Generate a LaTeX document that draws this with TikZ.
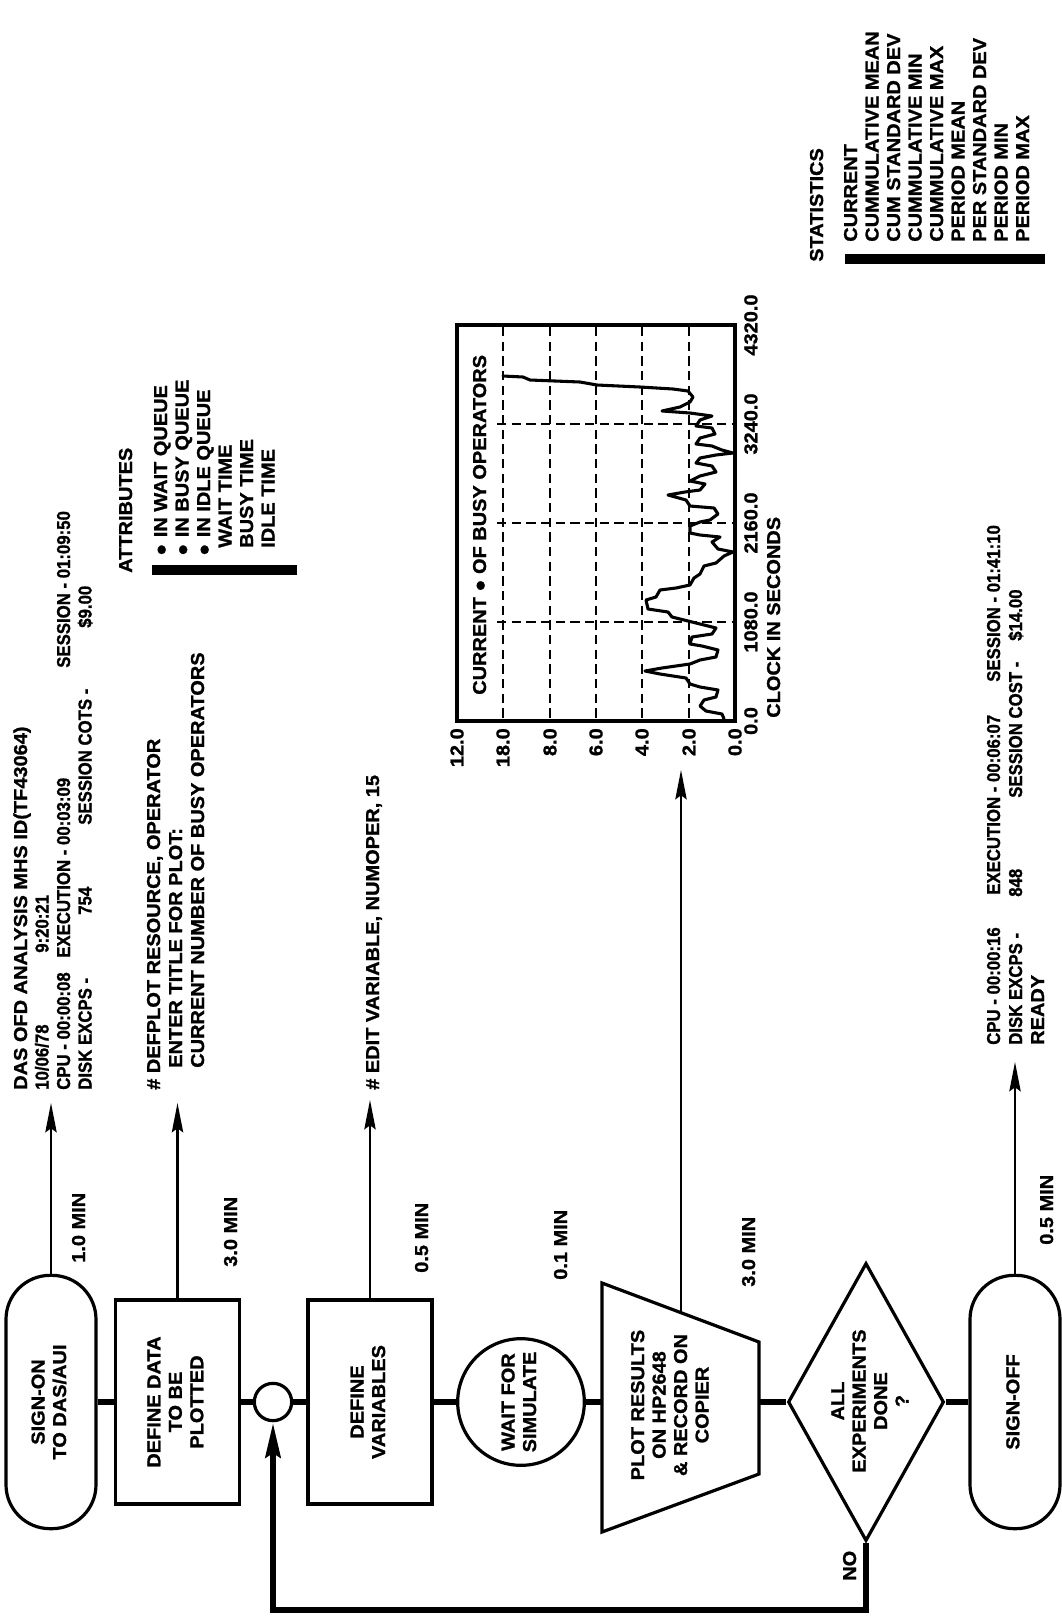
\documentclass[tikz,border=0pt]{standalone}
\usepackage{fontspec}
\setmainfont{Liberation Sans}[FakeStretch=1.07, BoldFeatures={FakeBold=1.2}]
\usepackage{graphicx}
\usetikzlibrary{arrows.meta,shapes.geometric}
\newcommand{\rtx}[1]{\rotatebox{90}{\begin{tabular}{@{}c@{}}#1\end{tabular}}}
\newcommand{\nar}[1]{\scalebox{0.84}[1]{#1}}
\begin{document}
\begin{tikzpicture}[x=0.75pt,y=-0.75pt,
  every node/.style={font=\bfseries\fontsize{14pt}{16.1pt}\selectfont, inner sep=0pt},
  txt/.style={rotate=90, anchor=base west},
  shapebox/.style={draw, line width=2.4pt, minimum width=93pt, minimum height=153pt},
  pill/.style={draw, line width=2.4pt, rounded corners=33pt, minimum width=67.5pt, minimum height=190pt},
  conn/.style={line width=5pt},
  arr/.style={line width=1.6pt, -{Stealth[length=22pt,width=8.5pt,inset=3pt]}},
  loopline/.style={line width=5pt, line join=miter, -{Stealth[length=26pt,width=11pt,inset=3pt]}},
  bar/.style={line width=7.5pt},
  gridl/.style={line width=1.6pt, dash pattern=on 7pt off 4pt},
]
\fill[white] (0,0) rectangle (1061,1621);
\useasboundingbox (0,0) rectangle (1061,1621);

% ---------------- flowchart ----------------
\node[pill] (signon) at (51,1402) {\rtx{SIGN-ON\\TO DAS/AUI}};
\node[shapebox] (defdata) at (177.5,1402) {\rtx{DEFINE DATA\\TO BE\\PLOTTED}};
\node[draw, circle, line width=2.4pt, minimum size=28pt] (junc) at (273,1402) {};
\node[shapebox] (defvar) at (370,1402) {\rtx{DEFINE\\VARIABLES}};
\node[draw, circle, line width=2.4pt, minimum size=95pt] (wait) at (521,1402) {\rtx{WAIT FOR\\SIMULATE}};
\draw[line width=2.4pt, line join=miter] (602,1283) -- (759,1342) -- (759,1474) -- (602,1532) -- cycle;
\coordinate (trapW) at (602,1402);
\coordinate (trapE) at (759,1402);
\coordinate (trapTop) at (681,1313);
\node (plotres) at (672,1405) {\rtx{PLOT RESULTS\\ON HP2648\\\& RECORD ON\\COPIER}};
\node[draw, diamond, aspect=0.56, line width=2.4pt, minimum width=117pt, minimum height=208.5pt] (done) at (866,1402) {};
\node (donetxt) at (872,1401) {\rtx{ALL\\EXPERIMENTS\\DONE\\?}};
\node[pill] (signoff) at (1015,1402) {\rtx{SIGN-OFF}};

\draw[conn] (signon.east) -- (defdata.west);
\draw[conn] (defdata.east) -- (junc.west);
\draw[conn] (junc.east) -- (defvar.west);
\draw[conn] (defvar.east) -- (wait.west);
\draw[conn] (wait.east) -- (trapW);
\draw[conn] (trapE) -- (done.west);
\draw[conn] (done.east) -- (signoff.west);
\coordinate (loopBL) at (273,1610);
\draw[loopline] (done.south) |- (loopBL) -- (junc.south);
\node[txt] (no) at (856,1581) {NO};

% output arrows
\coordinate (t1) at (51,1103);
\coordinate (t2) at (177.5,1103);
\coordinate (t3) at (370,1100);
\coordinate (t4) at (681,770);
\coordinate (t5) at (1015,1062);
\draw[arr] (signon.north) -- (t1);
\draw[arr] (defdata.north) -- (t2);
\draw[arr] (defvar.north) -- (t3);
\draw[arr] (trapTop) -- (t4);
\draw[arr] (signoff.north) -- (t5);

% time labels
\node[txt] (m1) at (85,1263) {1.0 MIN};
\node[txt] (m2) at (237,1267) {3.0 MIN};
\node[txt] (m3) at (428,1273) {0.5 MIN};
\node[txt] (m4) at (567,1280) {0.1 MIN};
\node[txt] (m5) at (755,1287) {3.0 MIN};
\node[txt] (m6) at (1053,1245) {0.5 MIN};

% ---------------- text block 1 ----------------
\node[txt] (b1l1) at (27,1090) {DAS OFD ANALYSIS MHS ID(TF43064)};
\node[txt] (b1l2a) at (48.5,1090) {\nar{10/06/78}};
\node[txt] (b1l2b) at (48.5,953) {\nar{9:20:21}};
\node[txt] (b1l3a) at (70,1090) {\nar{CPU - 00:00:08}};
\node[txt] (b1l3b) at (70,958) {\nar{EXECUTION - 00:03:09}};
\node[txt] (b1l3c) at (70,668) {\nar{SESSION - 01:09:50}};
\node[txt] (b1l4a) at (91.5,1090) {\nar{DISK EXCPS -}};
\node[txt] (b1l4b) at (91.5,915) {\nar{754}};
\node[txt] (b1l4c) at (91.5,825) {\nar{SESSION COTS -}};
\node[txt] (b1l4d) at (91.5,628) {\nar{\$9.00}};

% ---------------- text block 2 ----------------
\node[txt] (b2l1) at (160,1090) {\# DEFPLOT RESOURCE, OPERATOR};
\node[txt] (b2l2) at (182,1068) {ENTER TITLE FOR PLOT:};
\node[txt] (b2l3) at (204,1068) {CURRENT NUMBER OF BUSY OPERATORS};

% ---------------- text block 3 ----------------
\node[txt] (b3l1) at (379,1090) {\# EDIT VARIABLE, NUMOPER, 15};

% ---------------- text block 5 ----------------
\node[txt] (b5l1a) at (1000,1045) {\nar{CPU - 00:00:16}};
\node[txt] (b5l1b) at (1000,895) {\nar{EXECUTION - 00:06:07}};
\node[txt] (b5l1c) at (1000,682) {\nar{SESSION - 01:41:10}};
\node[txt] (b5l2a) at (1022,1045) {\nar{DISK EXCPS -}};
\node[txt] (b5l2b) at (1022,897) {\nar{848}};
\node[txt] (b5l2c) at (1022,798) {\nar{SESSION COST -}};
\node[txt] (b5l2d) at (1022,641) {\nar{\$14.00}};
\node[txt] (b5l3) at (1044,1045) {READY};

% ---------------- attributes ----------------
\node[txt] (atth) at (132,573) {ATTRIBUTES};
\node[txt] (att1) at (167,556) {●\hspace{0.35em}IN WAIT QUEUE};
\node[txt] (att2) at (188.5,556) {●\hspace{0.35em}IN BUSY QUEUE};
\node[txt] (att3) at (210,556) {●\hspace{0.35em}IN IDLE QUEUE};
\node[txt] (att4) at (231.5,548) {WAIT TIME};
\node[txt] (att5) at (253,548) {BUSY TIME};
\node[txt] (att6) at (274.5,548) {IDLE TIME};
\coordinate (attb1) at (152,570);
\coordinate (attb2) at (297,570);
\draw[bar] (attb1) -- (attb2);

% ---------------- statistics ----------------
\node[txt] (sth) at (823,262) {STATISTICS};
\foreach \t [count=\i from 0] in {CURRENT,CUMMULATIVE MEAN,CUM STANDARD DEV,CUMMULATIVE MIN,CUMMULATIVE MAX,PERIOD MEAN,PER STANDARD DEV,PERIOD MIN,PERIOD MAX}
  \node[txt] (st\i) at (857+21.5*\i,242) {\t};
\coordinate (stb1) at (845,259);
\coordinate (stb2) at (1045,259);
\draw[bar] (stb1) -- (stb2);

% ---------------- chart ----------------
\node[draw, line width=3pt, minimum width=208.5pt, minimum height=297pt] (chart) at (596,523) {};
\foreach \x in {503,550,596,642,689} \draw[gridl] (\x,327) -- (\x,719);
\foreach \y in {424,523,622} \draw[gridl] (497,\y) -- (733,\y);
\node[txt] (ctitle) at (486,695) {CURRENT ● OF BUSY OPERATORS};
\foreach \x/\t [count=\i] in {457/12.0,503/18.0,550/8.0,596/6.0,642/4.0,689/2.0,735/0.0}
  \node[rotate=90, anchor=east] (vl\i) at (\x,728) {\t};
\foreach \y/\t [count=\i] in {721/0.0,622/1080.0,523/2160.0,424/3240.0,325/4320.0}
  \node[rotate=90, anchor=north] (tl\i) at (744,\y) {\t};
\node[txt] (clock) at (780,718) {CLOCK IN SECONDS};

\draw[line width=2.3pt, line join=round, line cap=round]
 (724,719) -- (722,714) -- (706,711) -- (700,706) -- (704,700) -- (716,697) -- (718,690)
 -- (700,687) -- (690,684) -- (686,678) -- (660,674) -- (645,671) -- (662,668) -- (690,664)
 -- (700,660) -- (716,657) -- (718,650) -- (702,646) -- (690,644) -- (692,637) -- (712,634)
 -- (716,628) -- (700,624) -- (684,620) -- (672,617) -- (668,612) -- (648,609) -- (646,600)
 -- (656,597) -- (660,590) -- (676,588) -- (690,585) -- (694,578) -- (700,574) -- (704,566)
 -- (716,563) -- (724,556) -- (733,552) -- (718,549) -- (712,542) -- (720,537) -- (700,535)
 -- (690,533) -- (690,526) -- (700,522) -- (710,520) -- (718,514) -- (714,508) -- (690,506)
 -- (686,500) -- (668,495) -- (685,492) -- (700,490) -- (705,484) -- (690,481) -- (700,476)
 -- (716,472) -- (712,466) -- (696,463) -- (700,458) -- (716,455) -- (733,453) -- (722,450)
 -- (712,446) -- (696,444) -- (700,438) -- (715,434) -- (712,428) -- (696,426) -- (700,420)
 -- (712,416) -- (690,413) -- (662,411) -- (680,407) -- (690,402) -- (693,397) -- (688,391)
 -- (673,389) -- (640,387) -- (597,385) -- (580,382) -- (530,380) -- (523,377) -- (503,376);
\end{tikzpicture}
\end{document}
